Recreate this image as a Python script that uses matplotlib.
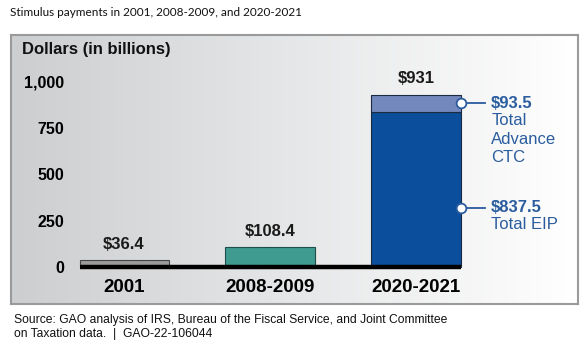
import numpy as np
import matplotlib.pyplot as plt
from matplotlib.colors import LinearSegmentedColormap

# stimulus totals, billions of dollars
periods = ["2001", "2008-2009", "2020-2021"]
totals = [36.4, 108.4, 931]
eip_2020 = 837.5
ctc_2020 = 93.5
yticks = [0, 250, 500, 750, 1000]
ytick_labels = ["0", "250", "500", "750", "1,000"]

W, H = 588, 347
fig = plt.figure(figsize=(W / 100, H / 100), dpi=100)
fig.patch.set_facecolor("white")

def px(x0, y0, x1, y1):
    # pixel box (top-left origin) -> figure fraction rect
    return [x0 / W, 1 - y1 / H, (x1 - x0) / W, (y1 - y0) / H]

# gradient panel behind the chart
bg = fig.add_axes(px(11, 35, 578, 304))
grad = np.linspace(0, 1, 256).reshape(1, -1)
cmap = LinearSegmentedColormap.from_list("g", ["#cdced0", "#e6e7e8", "#ffffff"])
bg.imshow(grad, aspect="auto", cmap=cmap, extent=[0, 1, 0, 1])
bg.set_xticks([])
bg.set_yticks([])
for s in bg.spines.values():
    s.set_color("#9a9a9a")
    s.set_linewidth(1.5)

ax = fig.add_axes(px(75, 82, 470, 267))
ax.set_facecolor("none")
ax.set_xlim(-0.336, 2.37)
ax.set_ylim(0, 1000)
for s in ax.spines.values():
    s.set_visible(False)

x = np.arange(len(periods))
bw = 0.61
ax.bar(x[0], totals[0], bw, color="#9b9b9b", edgecolor="#444444", linewidth=0.8, clip_on=False)
ax.bar(x[1], totals[1], bw, color="#3f9a90", edgecolor="#1f4f4a", linewidth=0.8, clip_on=False)
ax.bar(x[2], eip_2020, bw, color="#0b4f9c", edgecolor="#1a2a40", linewidth=0.8, clip_on=False)
ax.bar(x[2], ctc_2020, bw, bottom=eip_2020, color="#7388bd", edgecolor="#1a2a40",
       linewidth=0.8, clip_on=False)

# baseline
ax.plot([x[0] - bw / 2, x[2] + bw / 2], [0, 0], color="black", lw=3.2,
        solid_capstyle="butt", clip_on=False, zorder=5)

ax.set_yticks(yticks)
ax.set_yticklabels(ytick_labels, fontsize=11.5, fontweight="bold", family="Liberation Sans")
ax.set_xticks(x)
ax.set_xticklabels(periods, fontsize=13.5, fontweight="bold", family="Liberation Sans")
ax.tick_params(axis="y", length=0, pad=8)
ax.tick_params(axis="x", length=0, pad=9)

for xi, v in zip(x, totals):
    ax.annotate(f"${v:g}", (xi, v), xytext=(0, 6), textcoords="offset points",
                ha="center", va="bottom", fontsize=12, fontweight="bold",
                family="Liberation Sans", color="#1a1a1a")

ax.text(-0.70, 1178, "Dollars (in billions)", fontsize=12, fontweight="bold",
        family="Liberation Sans", ha="left", va="center", color="#111111")

# callouts for the 2020-2021 components
blue = "#2a5c9e"
right = x[2] + bw / 2
for yv, val, desc in [(eip_2020 + ctc_2020 / 2, ctc_2020, "Total\nAdvance\nCTC"),
                      (320, eip_2020, "Total EIP")]:
    ax.plot([right, right + 0.17], [yv, yv], color=blue, lw=1.3, clip_on=False, zorder=6)
    ax.plot(right, yv, "o", ms=7, mfc="white", mec=blue, mew=1.3, clip_on=False, zorder=7)
    ax.text(right + 0.21, yv, f"${val:g}", fontsize=12, fontweight="bold", color=blue,
            family="Liberation Sans", ha="left", va="center")
    ax.text(right + 0.21, yv - 52, desc, fontsize=12, color=blue, family="Liberation Sans",
            ha="left", va="top", linespacing=1.3)

fig.text(10 / W, 1 - 13 / H, "Stimulus payments in 2001, 2008-2009, and 2020-2021",
         fontsize=8.5, family="Lato", ha="left", va="center", color="#111111")
fig.text(14 / W, 1 - 327 / H,
         "Source: GAO analysis of IRS, Bureau of the Fiscal Service, and Joint Committee\n"
         "on Taxation data.  |  GAO-22-106044",
         fontsize=8.7, family="Liberation Sans", ha="left", va="center", color="#111111",
         linespacing=1.15)

fig.savefig("out.png", dpi=100)
